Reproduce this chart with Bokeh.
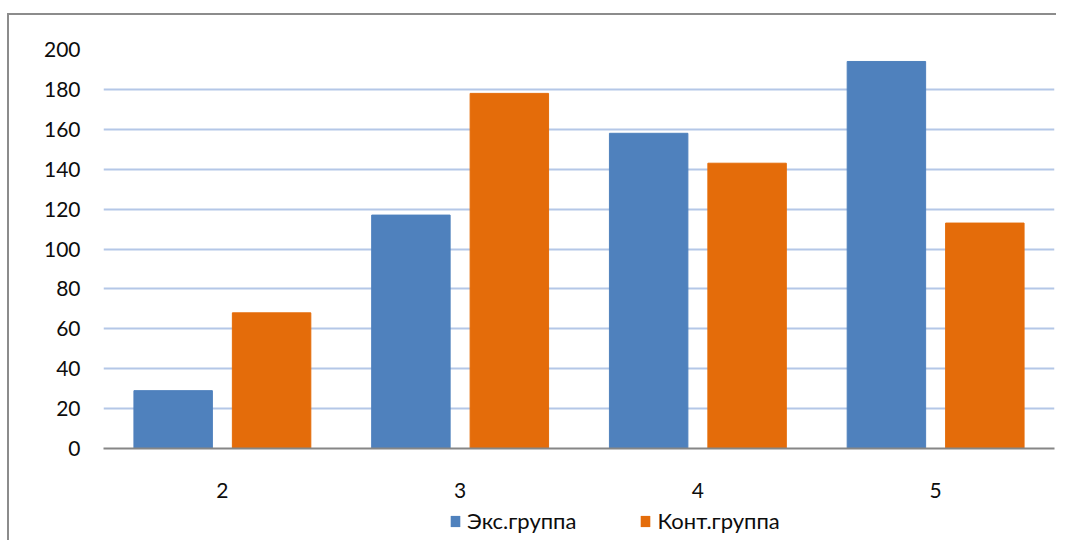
from bokeh.plotting import figure
from bokeh.layouts import column
from bokeh.models import ColumnDataSource, FactorRange, Range1d, Legend, LegendItem, FixedTicker
from bokeh.transform import dodge
from bokeh.embed import file_html
from bokeh.resources import INLINE

categories = ["2", "3", "4", "5"]
exp_group = [29, 117, 158, 194]
ctrl_group = [68, 178, 143, 113]
y_ticks = [0, 20, 40, 60, 80, 100, 120, 140, 160, 180, 200]
series_names = ["Экс.группа", "Конт.группа"]
colors = ["#4f81bd", "#e46c0a"]

src = ColumnDataSource(dict(cat=categories, exp=exp_group, ctrl=ctrl_group))

p = figure(x_range=FactorRange(factors=categories, range_padding=0),
           y_range=Range1d(0, 200),
           width=1047, height=488, output_backend="svg", toolbar_location=None,
           min_border_left=94, min_border_right=2, min_border_top=34, min_border_bottom=55)
p.outline_line_color = None
p.background_fill_color = "white"

p.vbar(x=dodge("cat", -0.207, range=p.x_range), top="exp", width=0.33, source=src,
       fill_color=colors[0], line_color=colors[0])
p.vbar(x=dodge("cat", 0.207, range=p.x_range), top="ctrl", width=0.33, source=src,
       fill_color=colors[1], line_color=colors[1])

p.xgrid.grid_line_color = None
p.ygrid.grid_line_color = "#b4c7e7"
p.ygrid.grid_line_width = 2
p.yaxis.ticker = FixedTicker(ticks=y_ticks)

p.yaxis.axis_line_color = None
p.yaxis.major_tick_line_color = None
p.yaxis.minor_tick_line_color = None
p.yaxis.major_label_standoff = 17
p.xaxis.axis_line_color = "#868686"
p.xaxis.axis_line_width = 2
p.xaxis.major_tick_line_color = None
p.xaxis.major_label_standoff = 28
for ax in (p.xaxis, p.yaxis):
    ax.major_label_text_font = "Lato"
    ax.major_label_text_font_size = "21px"
    ax.major_label_text_color = "#0d0d0d"

# legend strip
lg = figure(x_range=Range1d(0, 1), y_range=Range1d(0, 1), width=1047, height=37,
            output_backend="svg", toolbar_location=None,
            min_border_left=94, min_border_right=2, min_border_top=0, min_border_bottom=0)
lg.axis.visible = False
lg.grid.visible = False
lg.outline_line_color = None
zero = ColumnDataSource(dict(x=[0.5], top=[0.5], bottom=[0.5]))
g1 = lg.vbar(x="x", top="top", bottom="bottom", width=0, source=zero,
             fill_color=colors[0], line_color=colors[0], line_alpha=0)
g2 = lg.vbar(x="x", top="top", bottom="bottom", width=0, source=zero,
             fill_color=colors[1], line_color=colors[1], line_alpha=0)
legend = Legend(items=[LegendItem(label=series_names[0], renderers=[g1]),
                       LegendItem(label=series_names[1], renderers=[g2])],
                orientation="horizontal", location=(346, 6),
                padding=0, margin=0, spacing=63, glyph_width=12, glyph_height=14,
                label_standoff=6, label_text_font="Lato", label_text_font_size="22px",
                label_text_color="#0d0d0d", border_line_color=None,
                background_fill_alpha=0)
lg.add_layout(legend, "center")

layout = column(p, lg, spacing=0)
layout.margin = (13, 0, 0, 7)
layout.styles = {"border-top": "2px solid #8c8c8c", "border-left": "2px solid #8c8c8c"}

open("out.html", "w").write(file_html(layout, INLINE))
